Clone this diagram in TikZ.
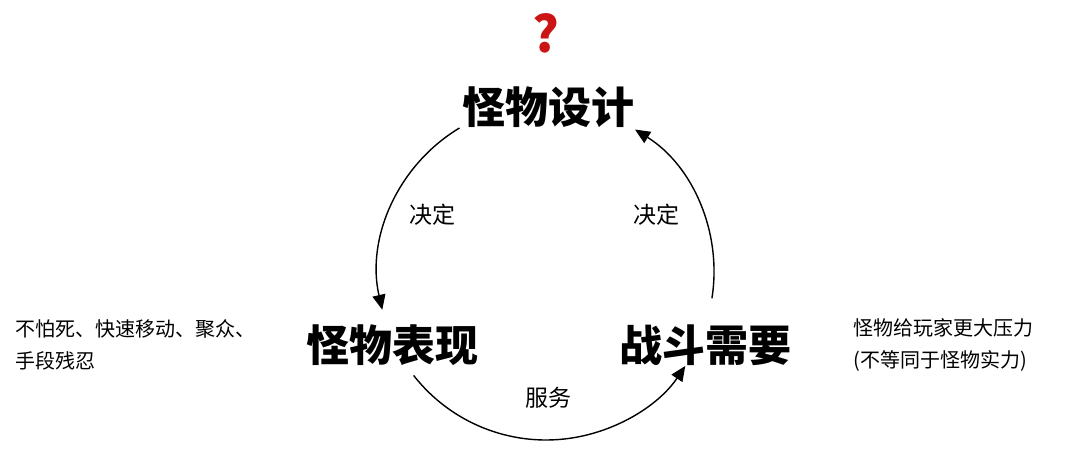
\documentclass[tikz,border=0pt]{standalone}
\usepackage{fontspec}
\setmainfont{Noto Sans CJK SC}
\usetikzlibrary{arrows.meta,calc}
\begin{document}
\begin{tikzpicture}[x=1pt,y=1pt,
  big/.style={font=\fontsize{43}{48}\selectfont\bfseries},
  lbl/.style={font=\fontsize{23}{26}\selectfont},
  side/.style={font=\fontsize{20}{32}\selectfont,align=left,anchor=west},
  arc/.style={line width=1.4pt,-{Triangle[length=15pt,width=13pt]}}]
\useasboundingbox (0,0) rectangle (1080,451);
\fill[white] (0,0) rectangle (1080,451);
\node[font=\fontsize{50}{54}\selectfont\bfseries,text={rgb,255:red,204;green,20;blue,20}] (q) at (546,418) {?};
\node[big] (d) at (548,344) {怪物设计};
\node[big] (b) at (392,106) {怪物表现};
\node[big] (z) at (705,106) {战斗需要};
\node[lbl] (l1) at (432,236) {决定};
\node[lbl] (l2) at (656,236) {决定};
\node[lbl] (l3) at (548,53) {服务};
\node[side] (s1) at (12,106) {不怕死、快速移动、聚众、\\手段残忍};
\node[side] (s2) at (850,106) {怪物给玩家更大压力\\(不等同于怪物实力)};
\coordinate (c) at (546,179);
\draw[arc] ($(c)+(121:168)$) arc[start angle=121,end angle=193,radius=168];
\draw[arc] ($(c)+(-9:168)$) arc[start angle=-9,end angle=58,radius=168];
\draw[arc] ($(c)+(218:168)$) arc[start angle=218,end angle=326,radius=168];
\end{tikzpicture}
\end{document}
